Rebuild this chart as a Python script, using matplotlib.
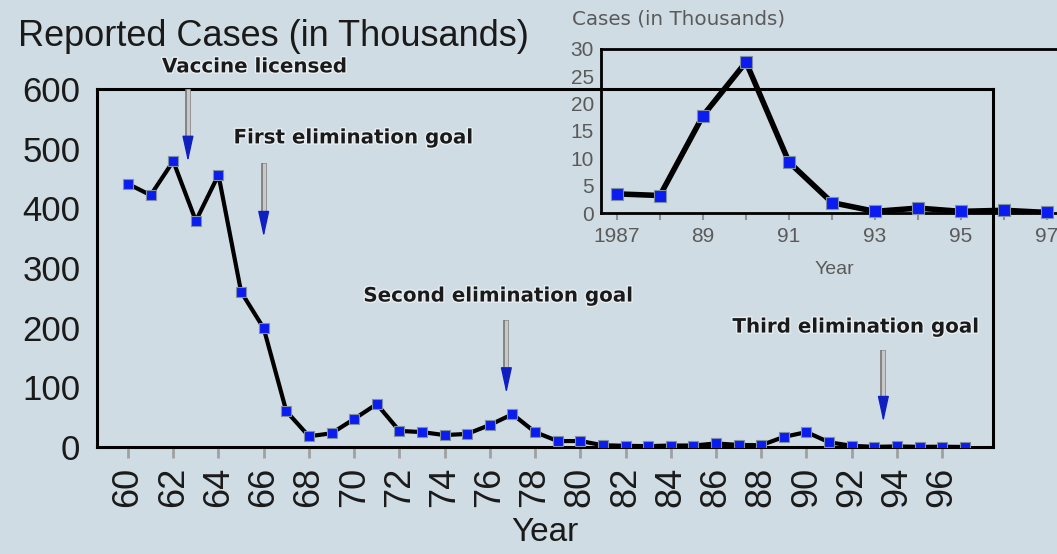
import matplotlib
matplotlib.use('Agg')
import matplotlib.pyplot as plt
import matplotlib.patheffects as pe

plt.rcParams['font.family'] = ['Liberation Sans', 'DejaVu Sans']

# reported measles cases, thousands
years = list(range(60, 98))
cases = [441, 422, 479, 379, 456, 260, 199, 60, 18, 23,
         47, 72, 27, 25, 20, 22, 37, 55, 25, 10,
         10, 3, 2, 1.5, 2.5, 2.5, 6, 3.5, 3, 17,
         25, 8, 2, 0.3, 1, 0.3, 0.5, 0.1]
year_ticks = list(range(60, 97, 2))
y_ticks = [0, 100, 200, 300, 400, 500, 600]

inset_years = list(range(87, 98))
inset_cases = [3.5, 3.2, 17.8, 27.6, 9.3, 1.9, 0.3, 0.9, 0.3, 0.5, 0.1]
inset_labels = ['1987', '89', '91', '93', '95', '97']
inset_yticks = [0, 5, 10, 15, 20, 25, 30]

# (label, text x, text y, arrow x, shaft top, head base, tip)
notes = [
    ('Vaccine licensed', 65.6, 637, 62.65, 600, 518, 478),
    ('First elimination goal', 69.96, 518, 66.0, 476, 394, 352),
    ('Second elimination goal', 76.37, 253, 76.73, 213, 132, 90),
    ('Third elimination goal', 92.17, 201, 93.4, 163, 82, 42),
]

bg = '#d0dce3'
blue = '#0a1cf0'
halo = [pe.withStroke(linewidth=2, foreground='#e8eef2')]

fig = plt.figure(figsize=(10.57, 5.54), dpi=100, facecolor=bg)
ax = fig.add_axes([0.0918, 0.1931, 0.8477, 0.6463])
ax.set_facecolor('none')
ax.plot(years, cases, color='black', lw=3, zorder=3)
ax.plot(years, cases, ls='none', marker='s', ms=7.5, mfc=blue, mec='#8090a0', mew=0.8, zorder=4)
ax.set_xlim(58.63, 98.25)
ax.set_ylim(0, 600)
ax.set_xticks(year_ticks)
ax.set_xticklabels([str(y) for y in year_ticks], rotation=90, fontsize=26, color='#1a1a1a')
ax.set_yticks(y_ticks)
ax.set_yticklabels([str(v) for v in y_ticks], fontsize=25, color='#1a1a1a')
ax.tick_params(axis='x', length=8, width=2, color='#a0a0a0', pad=6)
ax.tick_params(axis='y', length=0, pad=12)
for s in ax.spines.values():
    s.set_linewidth(2.2)
    s.set_color('black')
ax.set_xlabel('Year', fontsize=24, color='#1a1a1a', labelpad=7)

fig.text(0.017, 0.935, 'Reported Cases (in Thousands)', fontsize=26, color='#1a1a1a',
         va='center', ha='left')

for label, tx, ty, ax_x, top, base, tip in notes:
    ax.text(tx, ty, label, fontsize=14.3, fontweight='bold', ha='center', va='center',
            family='DejaVu Sans', color='#1a1a1a', clip_on=False, path_effects=halo)
    ax.plot([ax_x, ax_x], [top, base], color='#c8c8c8', lw=2.5, solid_capstyle='butt',
            path_effects=[pe.Stroke(linewidth=4, foreground='#707070'), pe.Normal()],
            clip_on=False, zorder=5)
    ax.annotate('', xy=(ax_x, tip), xytext=(ax_x, base),
                arrowprops=dict(arrowstyle='-|>,head_length=1.6,head_width=0.35',
                                fc='#1020c0', ec='#1020c0', lw=1, shrinkA=0, shrinkB=0),
                annotation_clip=False, zorder=6)

# inset with the recent years
gray = '#5a5a5a'
ins = fig.add_axes([0.5686, 0.6155, 0.4424, 0.2961])
ins.set_facecolor('none')
ins.plot(inset_years, inset_cases, color='black', lw=4, zorder=3)
ins.plot(inset_years, inset_cases, ls='none', marker='s', ms=8, mfc=blue, mec='#8090a0', mew=0.8,
         zorder=4, clip_on=False)
ins.set_xlim(86.63, 97.5)
ins.set_ylim(0, 30)
ins.set_xticks(range(87, 98, 2))
ins.set_xticklabels(inset_labels, fontsize=15, color=gray)
ins.set_xticks(range(88, 98, 2), minor=True)
ins.set_yticks(inset_yticks)
ins.set_yticklabels([str(v) for v in inset_yticks], fontsize=15, color=gray)
ins.tick_params(axis='x', which='both', length=5, width=1.5, color='#909090', pad=5)
ins.tick_params(axis='y', length=0, pad=5)
for s in ins.spines.values():
    s.set_linewidth(2)
    s.set_color('black')
ins.set_xlabel('Year', fontsize=14, color=gray, labelpad=11)
fig.text(0.541, 0.965, 'Cases (in Thousands)', fontsize=14.3, family='DejaVu Sans',
         color=gray, va='center', ha='left')

fig.savefig('out.png', dpi=100, facecolor=bg)
